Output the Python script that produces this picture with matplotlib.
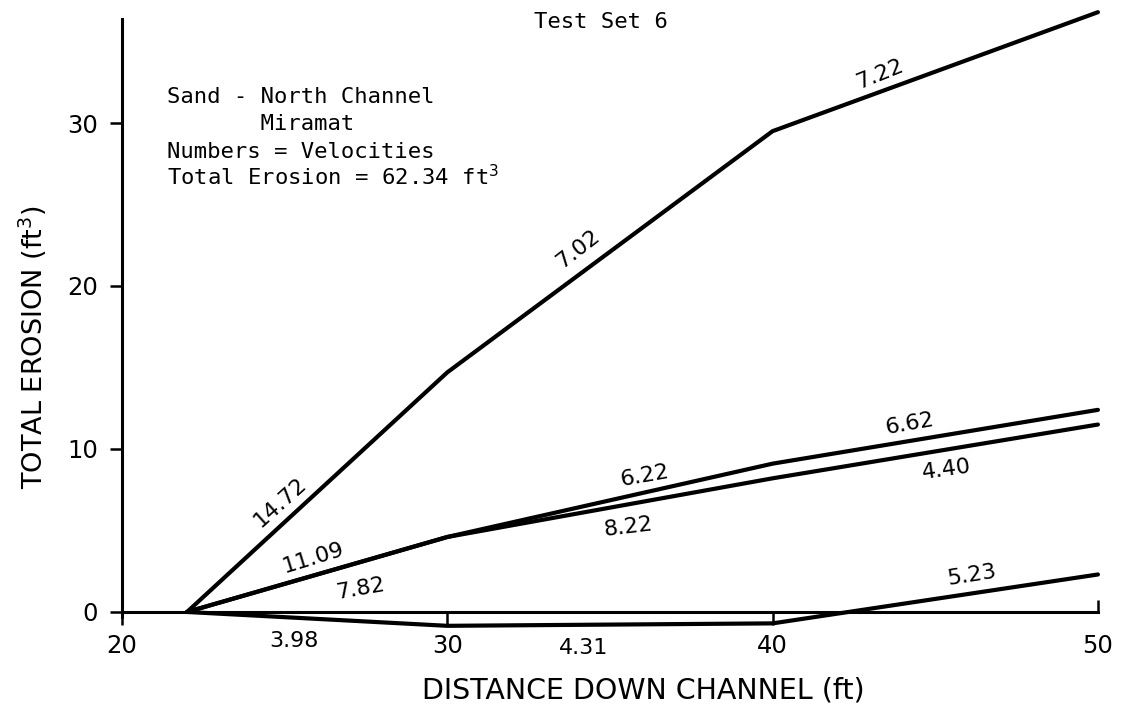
import matplotlib
matplotlib.use("Agg")
import matplotlib.pyplot as plt
import matplotlib.lines as mlines

# distance down channel (ft) and total erosion (ft^3) for each run
distance = [22, 30, 40, 50]
erosion_top = [0, 14.7, 29.5, 36.8]
erosion_mid_upper = [0, 4.6, 9.1, 12.4]
erosion_mid_lower = [0, 4.6, 8.2, 11.5]
erosion_bottom = [0, -0.85, -0.7, 2.3]

# velocities written along each segment
vel_top = ["14.72", "7.02", "7.22"]
vel_mid_upper = ["11.09", "6.22", "6.62"]
vel_mid_lower = ["7.82", "8.22", "4.40"]
vel_bottom = ["3.98", "4.31", "5.23"]

x_ticks = [20, 30, 40, 50]
y_ticks = [0, 10, 20, 30]

notes = ["Sand - North Channel",
         "       Miramat",
         "Numbers = Velocities",
         "Total Erosion = 62.34 ft$^3$"]

# label offsets (points) from segment midpoints, and rotations
off_top = [(-27, -7, 42), (-23, 2, 38), (-40, -2, 22)]
off_mid_upper = [(-3, 12, 17), (25, 18, 10), (-18, 9, 10)]
off_mid_lower = [(31, -10, 10), (13, -14, 7), (8, -13, 8)]
off_bottom = [(-17, -16, 0), (-19, -17, 0), (26, 17, 9)]

fig = plt.figure(figsize=(11.24, 7.08), dpi=100)
ax = fig.add_axes([0.1085, 0.0896, 0.8683, 0.8932])

series = [(erosion_top, vel_top, off_top),
          (erosion_mid_upper, vel_mid_upper, off_mid_upper),
          (erosion_mid_lower, vel_mid_lower, off_mid_lower),
          (erosion_bottom, vel_bottom, off_bottom)]

for vals, vels, offs in series:
    ax.plot(distance, vals, color="black", lw=3.0, clip_on=False,
            solid_capstyle="round", solid_joinstyle="round")
    for i in range(len(vels)):
        xm = (distance[i] + distance[i + 1]) / 2
        ym = (vals[i] + vals[i + 1]) / 2
        dx, dy, rot = offs[i]
        ax.annotate(vels[i], (xm, ym), xytext=(dx, dy),
                    textcoords="offset points", ha="center", va="center",
                    rotation=rot, fontsize=16, color="black")

ax.set_xlim(20, 50)
ax.set_ylim(-2, 36.8)
ax.spines["top"].set_visible(False)
ax.spines["right"].set_visible(False)
ax.spines["bottom"].set_position(("data", 0))
ax.spines["bottom"].set_bounds(20, 50)
ax.spines["left"].set_bounds(-0.3, 36.4)
for s in ["bottom", "left"]:
    ax.spines[s].set_linewidth(2.2)

ax.set_xticks(x_ticks)
ax.set_yticks(y_ticks)
ax.tick_params(axis="both", direction="out", length=9, width=1.8,
               labelsize=17.5)
ax.tick_params(axis="x", pad=7)
ax.tick_params(axis="y", pad=8)
ax.xaxis.get_major_ticks()[-1].tick1line.set_marker(mlines.TICKUP)

fig.text(643 / 1124, 1 - 698 / 708, "DISTANCE DOWN CHANNEL (ft)",
         ha="center", va="baseline", fontsize=20.5)
fig.text(43 / 1124, 1 - 347 / 708, "TOTAL EROSION (ft$^3$)",
         ha="center", va="baseline", rotation=90, rotation_mode="anchor",
         fontsize=19.5)

fig.text(601 / 1124, 1 - 28 / 708, "Test Set 6", ha="center",
         va="baseline", family="DejaVu Sans Mono", fontsize=16)

baselines = [103, 130, 158, 185]
for line, yb in zip(notes, baselines):
    fig.text(167 / 1124, 1 - yb / 708, line, ha="left", va="baseline",
             family="DejaVu Sans Mono", fontsize=16)

fig.savefig("out.png", dpi=100)
